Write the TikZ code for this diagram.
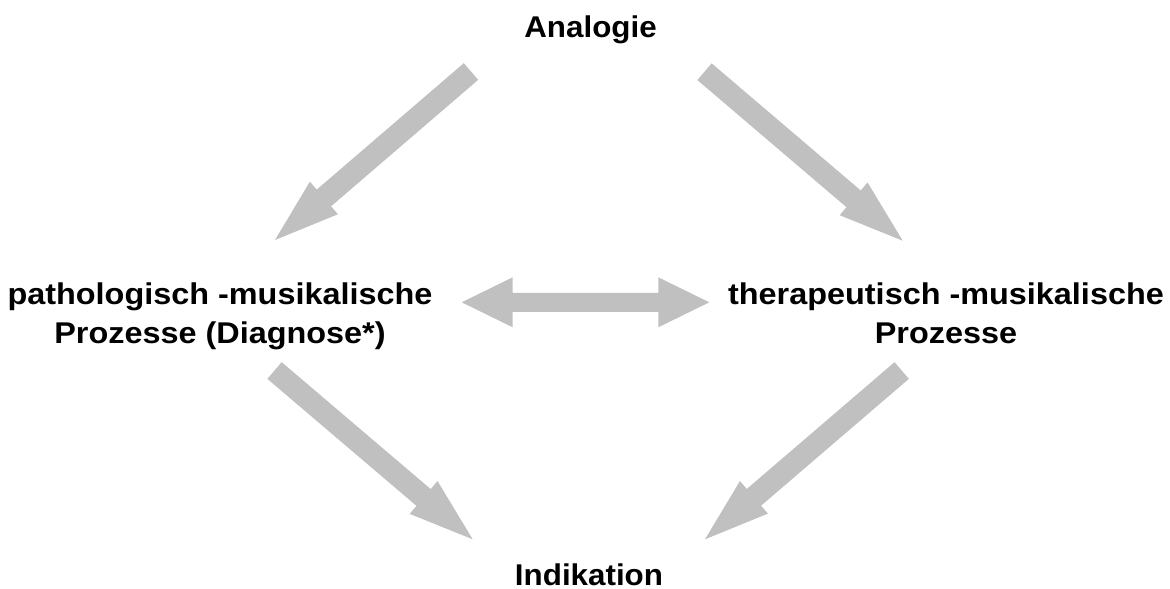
\documentclass[tikz,border=0pt]{standalone}
\usepackage{fontspec}
\setmainfont{Liberation Sans}
\newfontfamily\labfont[FakeStretch=1.045]{Liberation Sans}
\newfontfamily\midfont[FakeStretch=1.08]{Liberation Sans}
\usetikzlibrary{calc}
\definecolor{arrowgray}{RGB}{192,192,192}
\newcommand\blockarrow[6]{%
  \coordinate (#6h) at ($(#2)!#5!(#1)$);
  \fill[arrowgray]
    ($(#1)!#3!90:(#2)$) -- ($(#6h)!#3!-90:(#1)$) -- ($(#6h)!#4!-90:(#1)$) --
    (#2) --
    ($(#6h)!#4!90:(#1)$) -- ($(#6h)!#3!90:(#1)$) -- ($(#1)!#3!-90:(#2)$) -- cycle;}
\begin{document}
\begin{tikzpicture}[x=1pt,y=-1pt,
  toplabel/.style={font=\labfont\bfseries\fontsize{30}{38}\selectfont, inner sep=0pt, anchor=base},
  midlabel/.style={font=\midfont\bfseries\fontsize{30}{39}\selectfont, inner sep=0pt, align=center, anchor=base}]
\useasboundingbox (0,0) rectangle (1170,589);
% labels
\node[toplabel] (ana) at (590.5,37) {Analogie};
\node[toplabel] (ind) at (589,585) {Indikation};
\node[midlabel] (patho) at (220,343) {pathologisch -musikalische\\Prozesse (Diagnose*)};
\node[midlabel] (thera) at (946,343) {therapeutisch -musikalische\\Prozesse};
% arrow end points
\coordinate (a1s) at (471,71.5);   \coordinate (a1e) at (275,240);
\coordinate (a2s) at (704.5,71.7); \coordinate (a2e) at (902.7,240.7);
\coordinate (a3s) at (274.5,370.5);\coordinate (a3e) at (472.7,539.3);
\coordinate (a4s) at (901.7,370.5);\coordinate (a4e) at (705,539.3);
\coordinate (dl) at (461.7,302.3); \coordinate (dr) at (709.3,302.3);
% diagonal block arrows
\blockarrow{a1s}{a1e}{11pt}{21.5pt}{64.5pt}{A}
\blockarrow{a2s}{a2e}{11pt}{21.5pt}{64.5pt}{B}
\blockarrow{a3s}{a3e}{11pt}{21.5pt}{64.5pt}{C}
\blockarrow{a4s}{a4e}{11pt}{21.5pt}{64.5pt}{D}
% double arrow
\coordinate (hl) at ($(dl)!51pt!(dr)$);
\coordinate (hr) at ($(dr)!51pt!(dl)$);
\fill[arrowgray] (dl) -- ($(hl)!25pt!90:(dr)$) -- ($(hl)!9.5pt!90:(dr)$) --
  ($(hr)!9.5pt!-90:(dl)$) -- ($(hr)!25pt!-90:(dl)$) -- (dr) --
  ($(hr)!25pt!90:(dl)$) -- ($(hr)!9.5pt!90:(dl)$) --
  ($(hl)!9.5pt!-90:(dr)$) -- ($(hl)!25pt!-90:(dr)$) -- cycle;
\end{tikzpicture}
\end{document}
